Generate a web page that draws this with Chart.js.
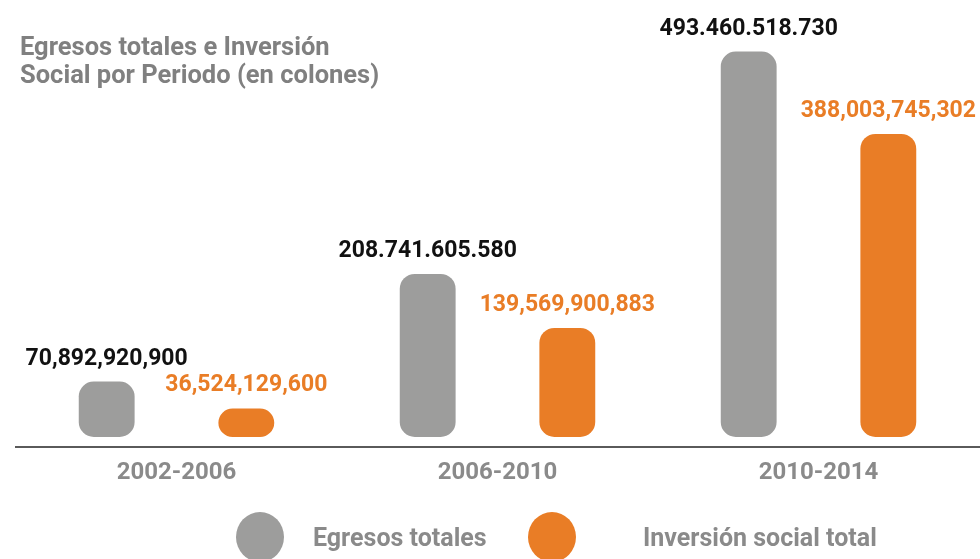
<!DOCTYPE html>
<html>
<head>
<meta charset="utf-8">
<script src="https://cdn.jsdelivr.net/npm/chart.js@4"></script>
<style>
  html, body { margin: 0; padding: 0; background: #fff; }
  #wrap { width: 980px; height: 559px; position: relative; }
</style>
</head>
<body>
<div id="wrap"><canvas id="barChart"></canvas></div>
<script>
// chart data
const periods = ['2002-2006', '2006-2010', '2010-2014'];
const egresos = [70892920900, 208741605580, 493460518730];
const inversion = [36524129600, 139569900883, 388003745302];
const egresosLabels = ['70,892,920,900', '208.741.605.580', '493.460.518.730'];
const inversionLabels = ['36,524,129,600', '139,569,900,883', '388,003,745,302'];
const titleLines = ['Egresos totales e Inversión', 'Social por Periodo (en colones)'];
const seriesNames = ['Egresos totales', 'Inversión social total'];

const GRAY = '#9d9d9c';
const ORANGE = '#e97d26';
const FONT = 'Roboto, "Liberation Sans", sans-serif';

// value labels above each bar
const valueLabels = {
    id: 'valueLabels',
    afterDatasetsDraw(chart) {
        const ctx = chart.ctx;
        const texts = [egresosLabels, inversionLabels];
        const colors = ['#111111', ORANGE];
        ctx.save();
        ctx.font = 'bold 23px ' + FONT;
        ctx.textAlign = 'center';
        ctx.textBaseline = 'alphabetic';
        chart.data.datasets.forEach(function (ds, i) {
            chart.getDatasetMeta(i).data.forEach(function (bar, j) {
                ctx.fillStyle = colors[i];
                ctx.fillText(texts[i][j], bar.x, bar.y - 17);
            });
        });
        ctx.restore();
    }
};

// title and legend drawn on top of the chart
const extras = {
    id: 'extras',
    afterDraw(chart) {
        const ctx = chart.ctx;
        ctx.save();
        ctx.fillStyle = '#808080';
        ctx.font = 'bold 25.5px ' + FONT;
        ctx.textAlign = 'left';
        ctx.textBaseline = 'alphabetic';
        ctx.fillText(titleLines[0], 20, 55);
        ctx.fillText(titleLines[1], 20, 83);

        const colors = [GRAY, ORANGE];
        const cx = [260, 552];
        const tx = [313, 643];
        ctx.font = 'bold 25px ' + FONT;
        for (let i = 0; i < 2; i++) {
            ctx.fillStyle = colors[i];
            ctx.beginPath();
            ctx.ellipse(cx[i], 537, 24, 25, 0, 0, Math.PI * 2);
            ctx.fill();
            ctx.fillStyle = '#8a8a8a';
            ctx.fillText(seriesNames[i], tx[i], 546);
        }
        ctx.restore();
    }
};

const ctx = document.getElementById('barChart').getContext('2d');
const myChart = new Chart(ctx, {
    type: 'bar',
    data: {
        labels: periods,
        datasets: [{
                label: seriesNames[0],
                data: egresos,
                backgroundColor: GRAY,
                borderRadius: 15,
                borderSkipped: false
            }, {
                label: seriesNames[1],
                data: inversion,
                backgroundColor: ORANGE,
                borderRadius: 15,
                borderSkipped: false
            }
        ]
    },
    options: {
        responsive: true,
        maintainAspectRatio: false,
        animation: false,
        categoryPercentage: 0.87,
        barPercentage: 0.4,
        layout: {
            padding: { left: 16, right: 1, top: 30, bottom: 0 }
        },
        plugins: {
            legend: { display: false },
            title: { display: false },
            tooltip: { enabled: false }
        },
        scales: {
            x: {
                grid: { display: false, drawTicks: false },
                border: { display: true, color: '#5a5a5a', width: 2 },
                ticks: {
                    color: '#8a8a8a',
                    padding: 12,
                    font: { family: FONT, size: 24, weight: 'bold' }
                },
                afterFit: function (scale) { scale.height = 112; }
            },
            y: {
                display: false,
                min: -12.8e9,
                max: 521e9
            }
        }
    },
    plugins: [valueLabels, extras]
});
</script>
</body>
</html>
